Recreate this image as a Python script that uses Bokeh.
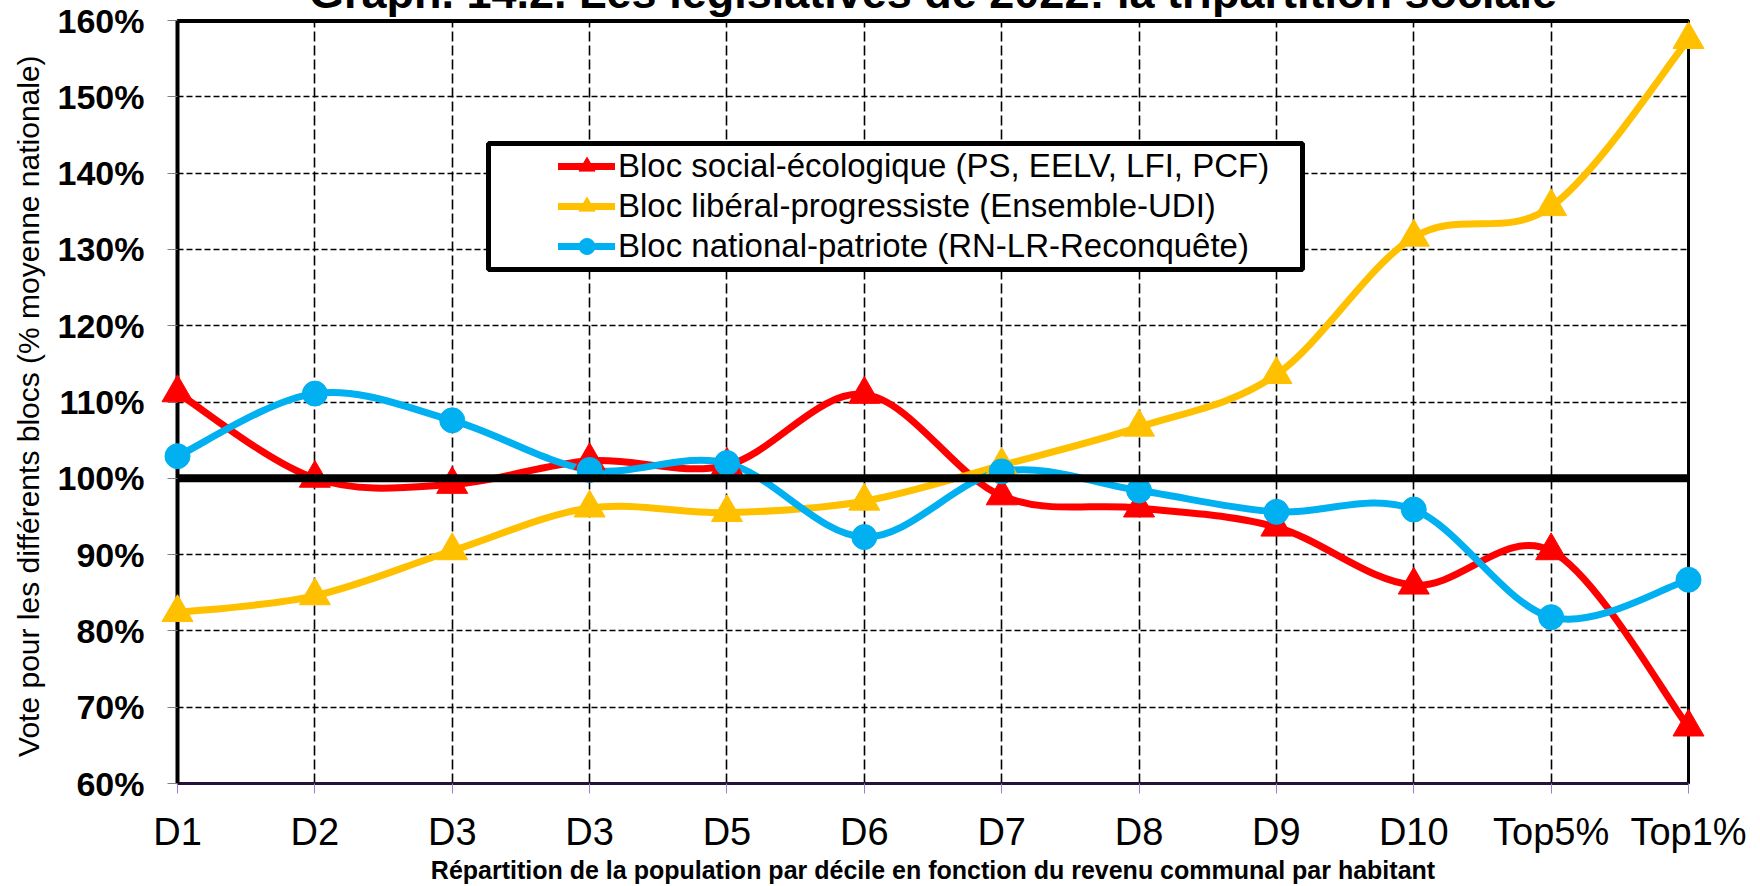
from bokeh.plotting import figure
from bokeh.models import (Range1d, FixedTicker, Span, Legend, LegendItem,
                          BoxAnnotation)
from bokeh.core.properties import value
from bokeh.embed import file_html
from bokeh.resources import INLINE

# ---------------- data ----------------
categories = ["D1", "D2", "D3", "D3", "D5", "D6", "D7", "D8", "D9", "D10", "Top5%", "Top1%"]
social = [111.2, 100.0, 99.2, 102.3, 101.7, 111.0, 97.7, 96.1, 93.6, 86.0, 90.5, 67.4]
liberal = [82.4, 84.6, 90.5, 96.1, 95.5, 97.0, 101.7, 106.7, 113.6, 131.6, 135.6, 157.5]
national = [102.9, 111.1, 107.6, 101.1, 102.0, 92.3, 100.9, 98.4, 95.6, 95.9, 81.8, 86.7]
series_names = ["Bloc social-écologique (PS, EELV, LFI, PCF)",
                "Bloc libéral-progressiste (Ensemble-UDI)",
                "Bloc national-patriote (RN-LR-Reconquête)"]
y_ticks = list(range(60, 161, 10))
y_tick_labels = [f"{v}%" for v in y_ticks]
reference_level = 100
title_text = "Graph. 14.2. Les législatives de 2022: la tripartition sociale"
x_title = "Répartition de la population par décile en fonction du revenu communal par habitant"
y_title = "Vote pour les différents blocs  (% moyenne nationale)"

RED, YELLOW, BLUE = "#FF0000", "#FFC000", "#00B0F0"

xs = list(range(len(categories)))
x_max = len(categories) - 1

# layout (canvas pixels)
W, H = 1760, 886
FR_L, FR_R, FR_T, FR_B = 177, 1688, 20, 783
px_x = (FR_R - FR_L) / x_max
px_y = (FR_B - FR_T) / (y_ticks[-1] - y_ticks[0])


def dx(cx):
    return (cx - FR_L) / px_x


def dy(cy):
    return y_ticks[-1] - (cy - FR_T) / px_y


def smooth(xv, yv):
    n = len(xv)
    d = dict(x0=[], y0=[], x1=[], y1=[], cx0=[], cy0=[], cx1=[], cy1=[])
    for i in range(n - 1):
        a = max(i - 1, 0)
        b = min(i + 2, n - 1)
        d["x0"].append(xv[i]); d["y0"].append(yv[i])
        d["x1"].append(xv[i + 1]); d["y1"].append(yv[i + 1])
        d["cx0"].append(xv[i] + (xv[i + 1] - xv[a]) / 6)
        d["cy0"].append(yv[i] + (yv[i + 1] - yv[a]) / 6)
        d["cx1"].append(xv[i + 1] - (xv[b] - xv[i]) / 6)
        d["cy1"].append(yv[i + 1] - (yv[b] - yv[i]) / 6)
    return d


p = figure(width=W, height=H, output_backend="svg", toolbar_location=None,
           x_range=Range1d(0, x_max), y_range=Range1d(y_ticks[0], y_ticks[-1]),
           min_border_left=FR_L, min_border_right=W - FR_R,
           min_border_top=FR_T, min_border_bottom=H - FR_B)
p.background_fill_color = "white"
p.border_fill_color = "white"
p.outline_line_color = "black"
p.outline_line_width = 3

# axes
p.xaxis.ticker = FixedTicker(ticks=xs)
p.xaxis.major_label_overrides = {i: c for i, c in enumerate(categories)}
p.yaxis.ticker = FixedTicker(ticks=y_ticks)
p.yaxis.major_label_overrides = {v: l for v, l in zip(y_ticks, y_tick_labels)}

p.xaxis.major_label_text_font = "Liberation Sans"
p.xaxis.major_label_text_font_size = "38px"
p.xaxis.major_label_text_color = "black"
p.xaxis.major_label_standoff = 17
p.xaxis.major_tick_in = 0
p.xaxis.major_tick_out = 10
p.xaxis.major_tick_line_color = "#9b7fd4"
p.xaxis.minor_tick_line_color = None
p.xaxis.axis_line_color = "#24123a"
p.xaxis.axis_line_width = 3
p.xaxis.axis_label = x_title
p.xaxis.axis_label_text_font = "Liberation Sans"
p.xaxis.axis_label_text_font_size = "25px"
p.xaxis.axis_label_text_font_style = "bold"
p.xaxis.axis_label_text_color = "black"
p.xaxis.axis_label_standoff = 0

p.yaxis.major_label_text_font = "Liberation Sans"
p.yaxis.major_label_text_font_style = "bold"
p.yaxis.major_label_text_font_size = "34px"
p.yaxis.major_label_text_color = "black"
p.yaxis.major_label_standoff = 23
p.yaxis.major_tick_in = 0
p.yaxis.major_tick_out = 10
p.yaxis.major_tick_line_color = "#808080"
p.yaxis.minor_tick_line_color = None
p.yaxis.axis_line_color = "black"
p.yaxis.axis_line_width = 4
p.yaxis.axis_label = y_title
p.yaxis.axis_label_text_font = "Liberation Sans"
p.yaxis.axis_label_text_font_size = "30px"
p.yaxis.axis_label_text_font_style = "normal"
p.yaxis.axis_label_text_color = "black"
p.yaxis.axis_label_standoff = 10

# grids
p.xgrid.ticker = FixedTicker(ticks=xs)
p.xgrid.grid_line_color = "black"
p.xgrid.grid_line_width = 1.6
p.xgrid.grid_line_dash = "10 4"
p.ygrid.ticker = FixedTicker(ticks=y_ticks)
p.ygrid.grid_line_color = "black"
p.ygrid.grid_line_width = 1.6
p.ygrid.grid_line_dash = "6 3"

# series
items = []
for vals, col, mk, sz, name in [(social, RED, "triangle", 31, series_names[0]),
                                 (liberal, YELLOW, "triangle", 31, series_names[1]),
                                 (national, BLUE, "circle", 25, series_names[2])]:
    line_r = p.bezier(source=smooth(xs, vals), x0="x0", y0="y0", x1="x1", y1="y1",
                      cx0="cx0", cy0="cy0", cx1="cx1", cy1="cy1",
                      line_color=col, line_width=7, line_cap="round")
    mark_r = p.scatter(xs, vals, marker=mk, size=sz, fill_color=col, line_color=col,
                       level="overlay")
    items.append(LegendItem(label=name, renderers=[line_r, mark_r]))

# thick 100% line and top border
p.add_layout(Span(location=reference_level, dimension="width", line_color="black",
                  line_width=8, level="overlay"))
p.add_layout(Span(location=y_ticks[-1], dimension="width", line_color="black",
                  line_width=5, level="overlay"))

# legend box
box = BoxAnnotation(left=dx(488), right=dx(1302), top=dy(143), bottom=dy(269),
                    fill_color="white", fill_alpha=1.0,
                    line_color="black", line_width=5, line_alpha=1.0)
p.add_layout(box)

legend = Legend(items=items, location=(558 - FR_L, FR_B - 266),
                padding=0, spacing=0, margin=0,
                glyph_height=40, glyph_width=57, label_height=40, label_standoff=3,
                label_text_font="Liberation Sans", label_text_font_size="33px",
                label_text_color="black",
                border_line_alpha=0, background_fill_alpha=0)
p.add_layout(legend, "center")

# title, cut by the top edge as in the source picture (unclipped overlay text)
p.text(x=[x_max / 2], y=[dy(-8)], text=[title_text], text_align="center",
       text_baseline="alphabetic", text_font=value("Liberation Sans"),
       text_font_style="bold", text_font_size="45px", text_color="black",
       level="overlay")

open("out.html", "w").write(file_html(p, INLINE))
